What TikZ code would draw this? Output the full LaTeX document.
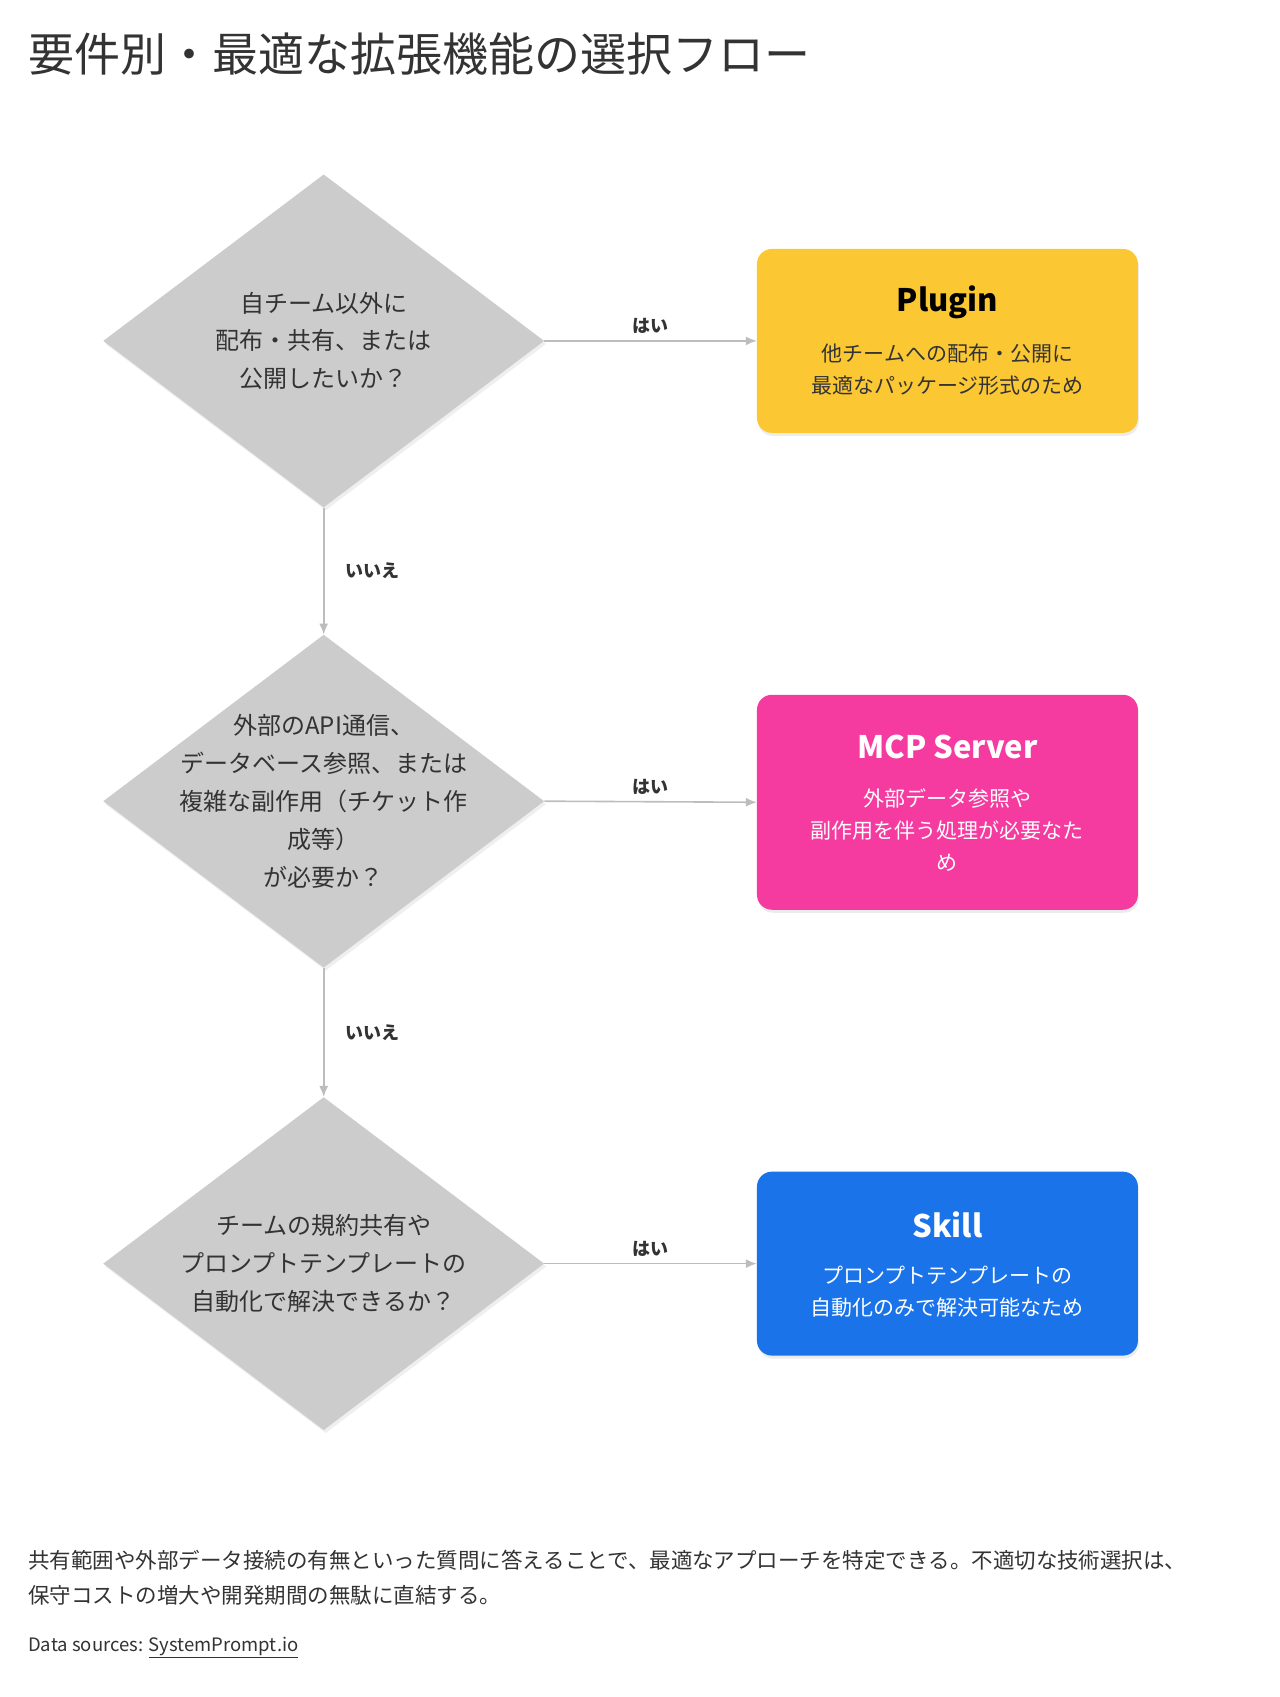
\documentclass[tikz,border=0pt]{standalone}
\usepackage{fontspec}
\setmainfont{Noto Sans CJK JP}
\usetikzlibrary{shapes.geometric,positioning,shadows,arrows.meta}
\definecolor{inkgray}{HTML}{333333}
\definecolor{diagray}{HTML}{CCCCCC}
\definecolor{arrgray}{HTML}{BDBDBD}
\definecolor{plugyellow}{HTML}{FBC834}
\definecolor{mcppink}{HTML}{F53AA0}
\definecolor{skillblue}{HTML}{1A73E8}
\tikzset{
  dia/.style={diamond, fill=diagray, draw=none, inner sep=0pt, aspect=1.32,
    minimum width=441pt, minimum height=333pt,
    drop shadow={opacity=.12, shadow xshift=2pt, shadow yshift=-3pt}},
  qtext/.style={align=center, text=inkgray, font=\fontsize{24}{38}\selectfont},
  box/.style={rectangle, rounded corners=15pt, minimum width=381pt, draw=none,
    drop shadow={opacity=.15, shadow xshift=1pt, shadow yshift=-3pt}},
  btitle/.style={font=\fontsize{31}{36}\bfseries\selectfont},
  bbody/.style={align=center, font=\fontsize{21}{32}\selectfont},
  flow/.style={draw=arrgray, line width=1.6pt, -{Latex[length=11pt,width=9pt]}},
  ans/.style={text=inkgray, font=\fontsize{18}{20}\bfseries\selectfont}
}
\begin{document}
\begin{tikzpicture}[x=1.0756pt, y=-1.0756pt]
  \useasboundingbox (0,0) rectangle (1190,1578);
  \fill[white] (0,0) rectangle (1190,1578);
  % title
  \node[anchor=west, text=inkgray, font=\fontsize{46}{50}\selectfont] (title) at (23,50)
    {要件別・最適な拡張機能の選択フロー};
  % questions
  \node[dia] (q1) at (301,317) {};
  \node[qtext] at (q1) {自チーム以外に\\配布・共有、または\\公開したいか？};
  \node[dia] (q2) at (301,745) {};
  \node[qtext] at (q2) {外部のAPI通信、\\データベース参照、または\\複雑な副作用（チケット作\\成等）\\が必要か？};
  \node[dia] (q3) at (301,1175) {};
  \node[qtext] at (q3) {チームの規約共有や\\プロンプトテンプレートの\\自動化で解決できるか？};
  % answers
  \node[box, fill=plugyellow, minimum height=184pt] (plugin) at (881,317) {};
  \node[btitle, text=black] at (881,281) {Plugin};
  \node[bbody, text=inkgray] at (881,344) {他チームへの配布・公開に\\最適なパッケージ形式のため};
  \node[box, fill=mcppink, minimum height=215pt] (mcp) at (881,746) {};
  \node[btitle, text=white] at (881,695) {MCP Server};
  \node[bbody, text=white] at (881,772) {外部データ参照や\\副作用を伴う処理が必要なた\\め};
  \node[box, fill=skillblue, minimum height=184pt] (skill) at (881,1175) {};
  \node[btitle, text=white] at (881,1139) {Skill};
  \node[bbody, text=white] at (881,1201) {プロンプトテンプレートの\\自動化のみで解決可能なため};
  % connectors
  \draw[flow] (q1.east) -- node[ans, above=3pt] {はい} (plugin.west);
  \draw[flow] (q2.east) -- node[ans, above=3pt] {はい} (mcp.west);
  \draw[flow] (q3.east) -- node[ans, above=3pt] {はい} (skill.west);
  \draw[flow] (q1.south) -- node[ans, right=18pt] {いいえ} (q2.north);
  \draw[flow] (q2.south) -- node[ans, right=18pt] {いいえ} (q3.north);
  % footer
  \node[anchor=north west, align=left, text=inkgray, font=\fontsize{21.5}{35}\selectfont] (note) at (23,1438)
    {共有範囲や外部データ接続の有無といった質問に答えることで、最適なアプローチを特定できる。不適切な技術選択は、\\保守コストの増大や開発期間の無駄に直結する。};
  \node[anchor=west, text=inkgray, font=\fontsize{18.5}{20}\selectfont] (src) at (23,1532)
    {Data sources: \underline{SystemPrompt.io}};
\end{tikzpicture}
\end{document}
